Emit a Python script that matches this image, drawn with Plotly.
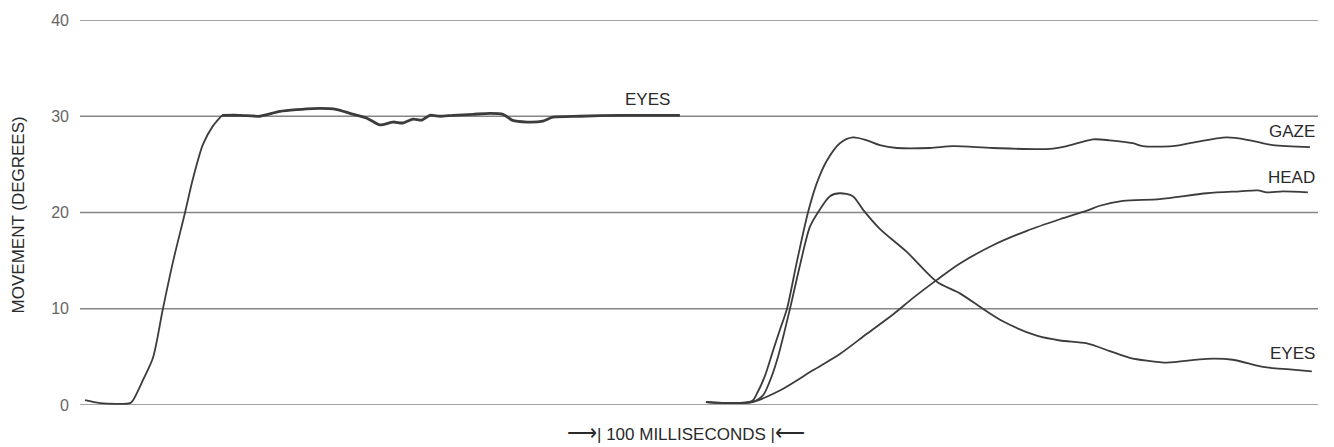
import plotly.graph_objects as go

# Time in milliseconds, movement in degrees
# First trial: eyes alone
eyes1_t = [2.7, 10.7, 26.7, 28.3, 33.6, 38.9, 44.2, 49.6, 56.0, 60.2, 65.6, 70.9, 75.7,
           85.3, 95.9, 106.6, 124.2, 137.0, 143.9, 153.0, 159.9, 166.8, 172.2, 177.5,
           182.3, 186.6, 191.9, 198.8, 209.5, 218.6, 225.5, 230.3, 238.3, 246.8, 252.1,
           266.5, 287.8, 319.8]
eyes1_v = [0.5, 0.2, 0.2, 0.5, 2.6, 4.9, 10.0, 14.9, 20.0, 23.5, 27.1, 29.0, 30.1,
           30.1, 30.0, 30.5, 30.8, 30.7, 30.3, 29.8, 29.1, 29.4, 29.3, 29.7,
           29.6, 30.1, 30.0, 30.1, 30.2, 30.3, 30.2, 29.6, 29.4, 29.5, 29.9,
           30.0, 30.1, 30.1]

# Second trial: gaze, head and eyes
gaze_t = [333.7, 358.2, 360.9, 365.1, 369.4, 373.1, 376.9, 382.2, 388.1, 392.9, 398.2,
          405.1, 412.0, 419.5, 426.4, 435.5, 453.1, 465.4, 486.7, 517.1, 526.1, 540.0,
          549.0, 561.3, 566.6, 582.6, 591.7, 611.4, 623.7, 635.9, 655.7]
gaze_v = [0.3, 0.4, 1.2, 3.0, 5.6, 7.8, 10.0, 14.9, 20.0, 23.1, 25.4,
          27.2, 27.8, 27.5, 27.0, 26.7, 26.7, 26.9, 26.7, 26.6, 26.9, 27.6,
          27.5, 27.2, 26.9, 26.9, 27.2, 27.8, 27.5, 27.0, 26.8]

head_t = [333.7, 358.2, 373.1, 390.7, 405.1, 419.5, 433.4, 444.0, 456.8, 469.1, 486.7,
          504.8, 522.4, 536.8, 543.7, 556.0, 575.7, 600.7, 618.3, 627.9, 632.7, 641.3,
          654.6]
head_v = [0.3, 0.3, 1.5, 3.6, 5.3, 7.4, 9.4, 11.1, 13.0, 14.7, 16.6,
          18.1, 19.3, 20.2, 20.7, 21.2, 21.4, 22.0, 22.2, 22.3, 22.1, 22.2,
          22.1]

eyes2_t = [333.7, 358.2, 364.1, 367.8, 372.1, 378.5, 383.8, 389.1, 393.4, 399.8, 405.1,
           412.0, 417.4, 426.4, 440.8, 456.8, 469.1, 481.3, 492.0, 510.1, 522.4, 536.8,
           549.0, 559.7, 568.8, 579.5, 600.7, 614.6, 627.4, 632.7, 645.0, 656.7]
eyes2_v = [0.3, 0.3, 1.0, 2.5, 5.0, 10.0, 14.5, 18.5, 20.0, 21.7, 22.0,
           21.7, 20.3, 18.3, 15.9, 12.8, 11.6, 10.0, 8.7, 7.2, 6.7, 6.4,
           5.6, 4.9, 4.6, 4.4, 4.8, 4.7, 4.1, 3.9, 3.7, 3.5]

y_ticks = [0, 10, 20, 30, 40]

INK = "#3c3c3c"
GRID = "#858585"
FONT = "Liberation Sans, Arial, Helvetica, sans-serif"

fig = go.Figure()

# horizontal rules at every tick, across the full plotting width
for v in y_ticks:
    fig.add_shape(type="line", xref="paper", yref="y", x0=0, x1=1, y0=v, y1=v,
                  line=dict(color=GRID, width=1.3), layer="below")

# rise of the first eye movement (thinner pen), then the held plateau (heavier pen)
split = 12
fig.add_trace(go.Scatter(x=eyes1_t[:split + 1], y=eyes1_v[:split + 1], mode="lines",
                         line=dict(color=INK, width=1.8, shape="spline", smoothing=0.8),
                         hoverinfo="skip"))
fig.add_trace(go.Scatter(x=eyes1_t[split:], y=eyes1_v[split:], mode="lines",
                         line=dict(color=INK, width=2.8, shape="spline", smoothing=0.6),
                         hoverinfo="skip"))

for t, v in [(gaze_t, gaze_v), (head_t, head_v), (eyes2_t, eyes2_v)]:
    fig.add_trace(go.Scatter(x=t, y=v, mode="lines",
                             line=dict(color=INK, width=1.8, shape="spline", smoothing=0.8),
                             hoverinfo="skip"))

# curve labels
labels = [
    ("EYES", 302.8, 31.7, "center"),
    ("GAZE", 659.5, 28.45, "right"),
    ("HEAD", 659.5, 23.66, "right"),
    ("EYES", 659.5, 5.36, "right"),
]
for text, x, y, anchor in labels:
    fig.add_annotation(x=x, y=y, text=text, showarrow=False, xanchor=anchor,
                       yanchor="middle", font=dict(family=FONT, size=17, color="#2a2a2a"))

# axis title and time scale note
fig.add_annotation(xref="paper", yref="paper", x=-0.0501, y=0.495,
                   text="MOVEMENT (DEGREES)", textangle=-90, showarrow=False,
                   xanchor="center", yanchor="middle",
                   font=dict(family=FONT, size=17, color="#2a2a2a"))
fig.add_annotation(xref="paper", yref="paper", x=0.4895, y=-0.072,
                   text="<span style='font-size:21px'>⟶</span>| 100 MILLISECONDS |"
                        "<span style='font-size:21px'>⟵</span>",
                   showarrow=False, xanchor="center", yanchor="middle",
                   font=dict(family=FONT, size=17, color="#2a2a2a"))

fig.update_layout(
    width=1334, height=447,
    margin=dict(l=80, r=16, t=17, b=42),
    paper_bgcolor="white", plot_bgcolor="white",
    showlegend=False,
    xaxis=dict(range=[0, 660], visible=False, showgrid=False, zeroline=False),
    yaxis=dict(range=[0, 40], tickvals=y_ticks, ticktext=[str(v) for v in y_ticks],
               showgrid=False, zeroline=False,
               showline=False, ticks="", ticklabelstandoff=10,
               tickfont=dict(family=FONT, size=16, color="#666666")),
)

fig.write_html("out.html")
